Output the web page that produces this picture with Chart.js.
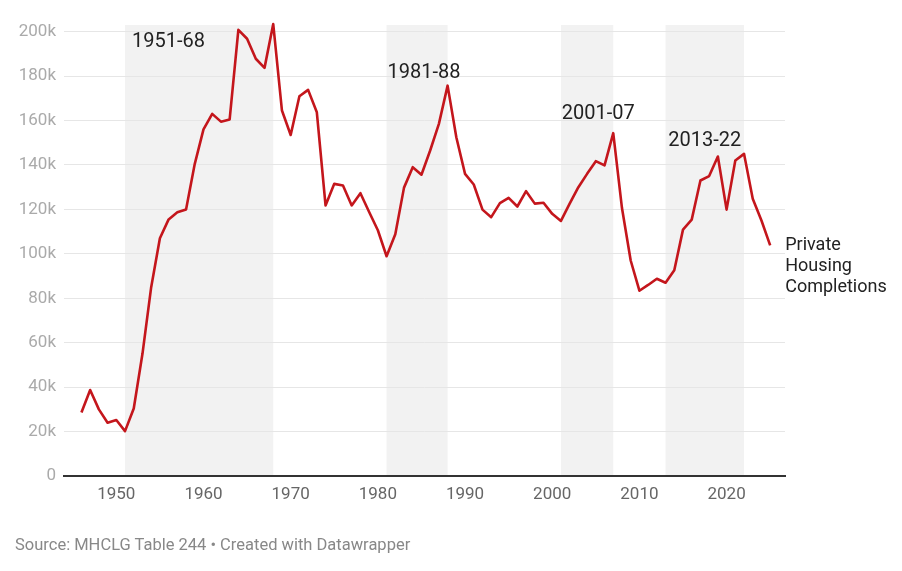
<!DOCTYPE html>
<html>
<head>
<meta charset="utf-8">
<script src="https://cdn.jsdelivr.net/npm/chart.js@4.4.1/dist/chart.umd.min.js"></script>
<style>
  html, body { margin: 0; padding: 0; background: #fff; }
  #wrap { position: relative; width: 902px; height: 571px; }
  #source { position: absolute; left: 15px; top: 535px; font: 16.5px Roboto, sans-serif; color: #888; white-space: nowrap; }
</style>
</head>
<body>
<div id="wrap">
  <canvas id="c" width="902" height="571"></canvas>
  <div id="source">Source: MHCLG Table 244 • Created with Datawrapper</div>
</div>
<script>
const years = [1946,1947,1948,1949,1950,1951,1952,1953,1954,1955,1956,1957,1958,1959,
  1960,1961,1962,1963,1964,1965,1966,1967,1968,1969,1970,1971,1972,1973,1974,1975,1976,
  1977,1978,1979,1980,1981,1982,1983,1984,1985,1986,1987,1988,1989,1990,1991,1992,1993,
  1994,1995,1996,1997,1998,1999,2000,2001,2002,2003,2004,2005,2006,2007,2008,2009,2010,
  2011,2012,2013,2014,2015,2016,2017,2018,2019,2020,2021,2022,2023,2024,2025];
const completions = [28600,38700,30000,24000,25200,20200,30400,55000,85000,107000,115500,
  118700,120000,140500,156000,163000,159500,160500,200800,196800,187800,183700,203400,
  164500,153500,170900,173800,163700,121800,131500,130800,121800,127300,118800,110600,
  98900,108800,129800,139000,135600,146500,158500,175700,152500,136000,131200,119900,
  116500,122800,125200,121300,128200,122600,123000,118000,114800,122600,130000,136000,
  141700,139800,154300,120600,97000,83400,86000,88800,87000,92600,110900,115400,133000,
  135000,143800,119900,142000,145000,124800,115000,103800];
const yTicks = [0,20000,40000,60000,80000,100000,120000,140000,160000,180000,200000];
const xTicks = [1950,1960,1970,1980,1990,2000,2010,2020];
const bandStarts = [1951,1981,2001,2013];
const bandEnds = [1968,1988,2007,2022];
const bandLabels = ['1951-68','1981-88','2001-07','2013-22'];
const seriesLabel = ['Private','Housing','Completions'];

// annotation anchors (data coordinates of label left/middle)
const annot = [
  {x:1951.8, y:195300},
  {x:1981.1, y:181600},
  {x:2001.1, y:163000},
  {x:2013.3, y:150600}
];

const bandsPlugin = {
  id: 'bands',
  beforeDraw(chart) {
    const {ctx, chartArea, scales} = chart;
    ctx.save();
    ctx.fillStyle = '#f2f2f2';
    for (let i = 0; i < bandStarts.length; i++) {
      const x0 = scales.x.getPixelForValue(bandStarts[i]);
      const x1 = scales.x.getPixelForValue(bandEnds[i]);
      ctx.fillRect(x0, chartArea.top, x1 - x0, chartArea.bottom - chartArea.top);
    }
    ctx.restore();
  },
  afterDatasetsDraw(chart) {
    const {ctx, scales} = chart;
    ctx.save();
    ctx.font = '20px Roboto, sans-serif';
    ctx.fillStyle = '#222';
    ctx.textBaseline = 'middle';
    ctx.textAlign = 'left';
    for (let i = 0; i < bandLabels.length; i++) {
      ctx.fillText(bandLabels[i], scales.x.getPixelForValue(annot[i].x), scales.y.getPixelForValue(annot[i].y));
    }
    const lx = scales.x.getPixelForValue(years[years.length-1]) + 15;
    const ly = scales.y.getPixelForValue(completions[completions.length-1]);
    ctx.font = '18px Roboto, sans-serif';
    for (let i = 0; i < seriesLabel.length; i++) {
      ctx.fillText(seriesLabel[i], lx, ly + i * 21);
    }
    ctx.restore();
  }
};

new Chart(document.getElementById('c'), {
  type: 'line',
  data: {
    datasets: [{
      label: 'Private Housing Completions',
      data: years.map((y, i) => ({x: y, y: completions[i]})),
      borderColor: '#c4161c',
      borderWidth: 2.6,
      pointRadius: 0,
      tension: 0,
      clip: false,
      borderJoinStyle: 'round'
    }]
  },
  options: {
    responsive: false,
    animation: false,
    layout: { padding: { left: 0, right: 117, top: 25, bottom: 65 } },
    plugins: { legend: { display: false }, tooltip: { enabled: false } },
    scales: {
      x: {
        type: 'linear',
        min: 1944,
        max: 2026.7,
        afterBuildTicks(scale) { scale.ticks = xTicks.map(v => ({value: v})); },
        afterFit(scale) { scale.height = 30; },
        grid: { display: false, drawTicks: false },
        border: { display: true, color: '#333', width: 2 },
        ticks: { padding: 9, color: '#666', font: { family: 'Roboto', size: 17 }, maxRotation: 0, autoSkip: false,
          callback: v => String(v) }
      },
      y: {
        min: 0,
        max: 203000,
        afterBuildTicks(scale) { scale.ticks = yTicks.map(v => ({value: v})); },
        afterFit(scale) { scale.width = 64; },
        grid: { color: '#e6e6e6', lineWidth: 1, drawTicks: false },
        border: { display: false },
        ticks: { padding: 8, color: '#aaa', font: { family: 'Roboto', size: 17 },
          callback: v => v === 0 ? '0' : (v / 1000) + 'k' }
      }
    }
  },
  plugins: [bandsPlugin]
});
</script>
</body>
</html>
